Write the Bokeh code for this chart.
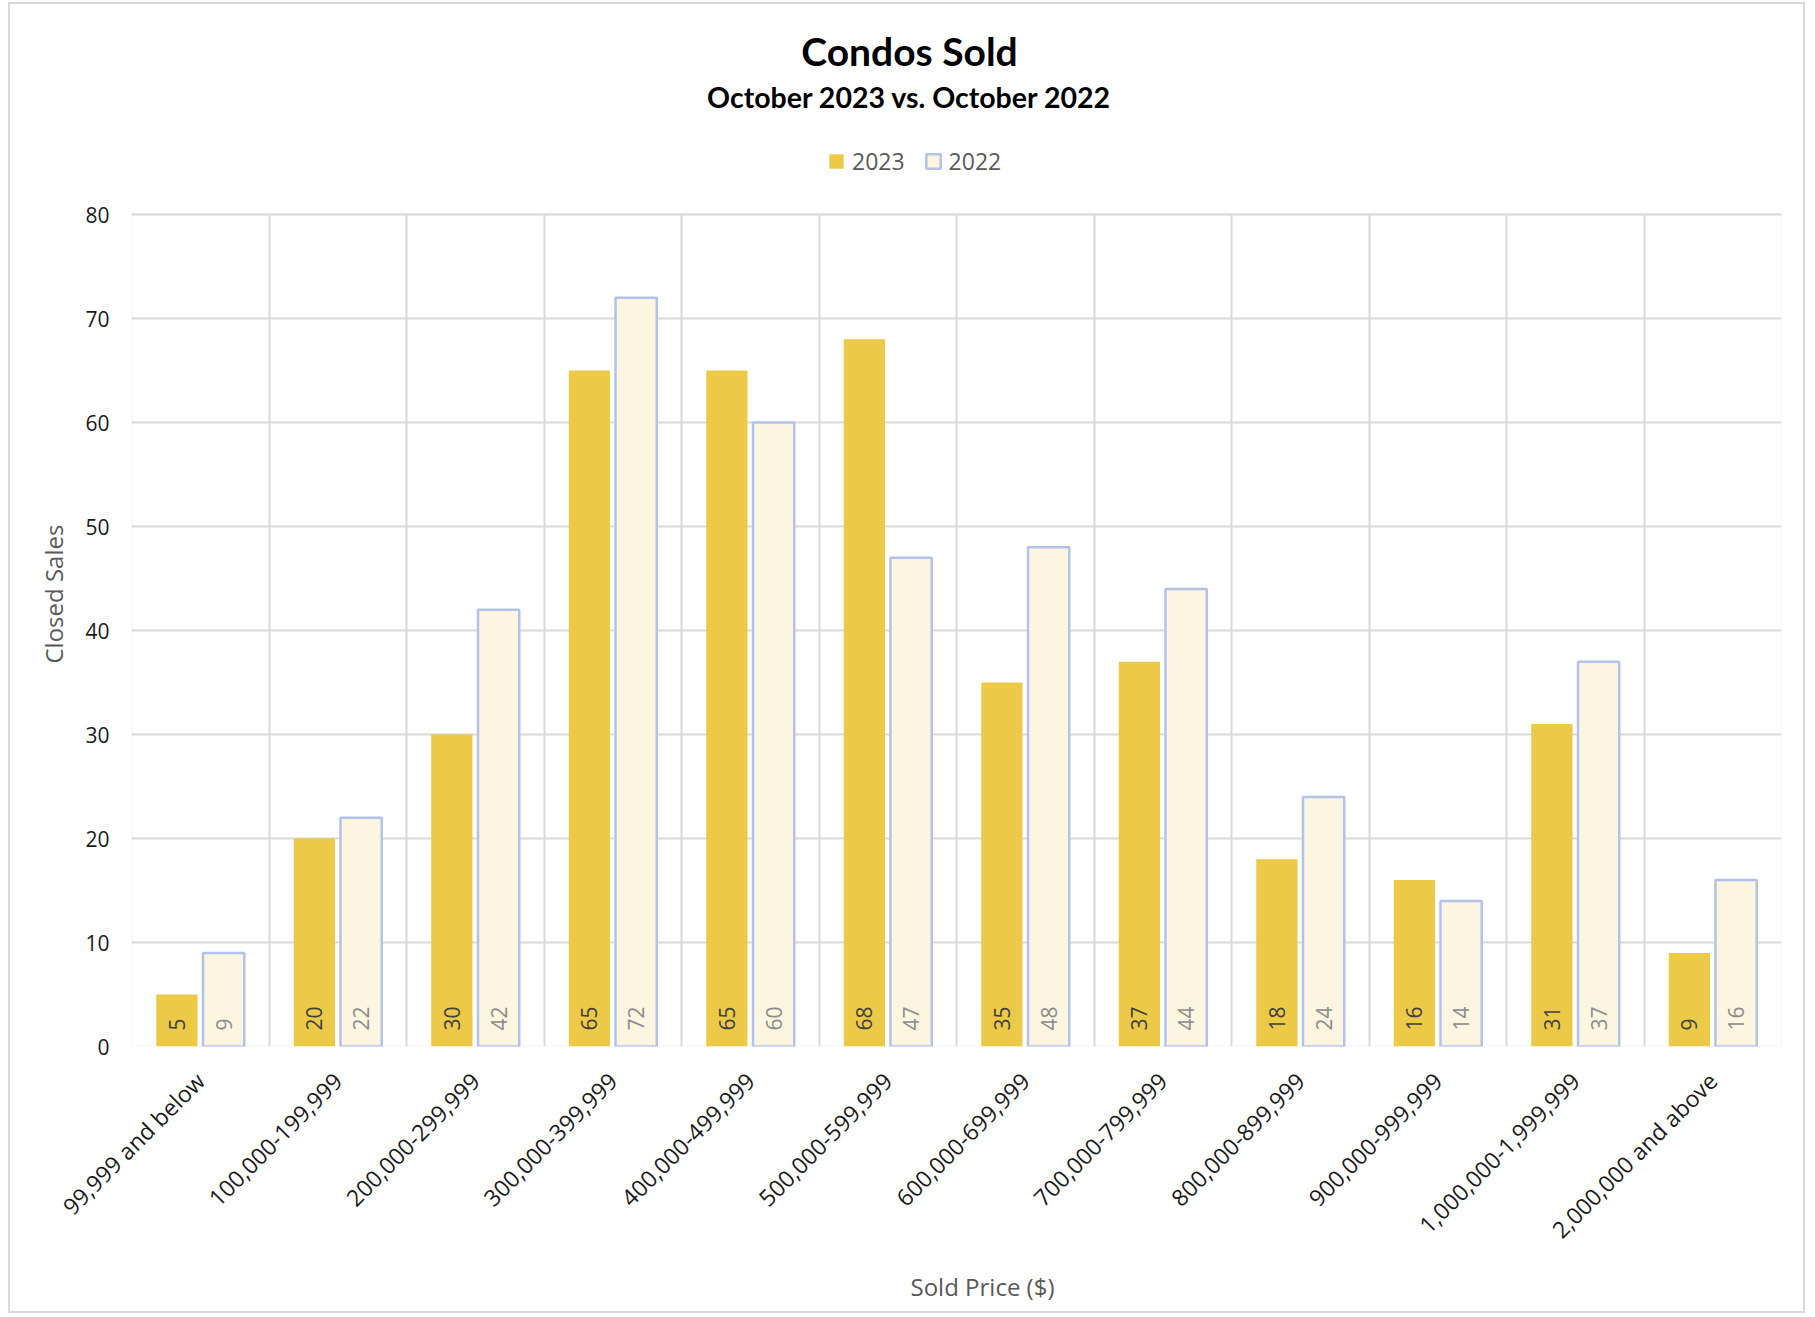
import math
from bokeh.plotting import figure
from bokeh.models import (FactorRange, Range1d, Legend, LegendItem, Title, Label,
                          FixedTicker, ColumnDataSource, BoxAnnotation, Grid)
from bokeh.transform import dodge
from bokeh.core.properties import value
from bokeh.embed import file_html
from bokeh.resources import INLINE

categories = ["99,999 and below", "100,000-199,999", "200,000-299,999",
              "300,000-399,999", "400,000-499,999", "500,000-599,999",
              "600,000-699,999", "700,000-799,999", "800,000-899,999",
              "900,000-999,999", "1,000,000-1,999,999", "2,000,000 and above"]
sales_2023 = [5, 20, 30, 65, 65, 68, 35, 37, 18, 16, 31, 9]
sales_2022 = [9, 22, 42, 72, 60, 47, 48, 44, 24, 14, 37, 16]
y_ticks = [0, 10, 20, 30, 40, 50, 60, 70, 80]

TFONT = "Lato"
FONT = "Open Sans"
GRID = "#d9d9d9"

# layout (pixels): the frame also holds the title/legend area above the chart
FRAME_H = 1036          # frame height
CHART_H = 832           # height of the 0..80 chart area at the frame bottom
y_top = y_ticks[-1] * FRAME_H / CHART_H

src = ColumnDataSource(dict(
    cat=categories,
    y2023=sales_2023,
    y2022=sales_2022,
    base=[0] * len(categories),
    lab2023=[str(v) for v in sales_2023],
    lab2022=[str(v) for v in sales_2022],
))

p = figure(x_range=FactorRange(factors=categories, range_padding=0, factor_padding=0),
           y_range=Range1d(y_ticks[0], y_top),
           width=1797, height=1311, output_backend="svg", toolbar_location=None,
           title=None,
           min_border_left=121, min_border_right=26, min_border_top=6,
           min_border_bottom=269)
p.styles = {"border": "2px solid #d9d9d9", "margin": "2px 0 0 8px"}
p.background_fill_color = "white"
p.border_fill_color = "white"
p.outline_line_color = None

# grid
nfac = len(categories)
p.ygrid.ticker = FixedTicker(ticks=y_ticks)
p.ygrid.grid_line_color = GRID
p.ygrid.grid_line_width = 2
p.xgrid.ticker = FixedTicker(ticks=list(range(nfac + 1)))
p.xgrid.grid_line_color = GRID
p.xgrid.grid_line_width = 2
if "cross_bounds" in Grid.properties():
    p.xgrid.cross_bounds = (y_ticks[0], y_ticks[-1])
else:
    p.add_layout(BoxAnnotation(bottom=y_ticks[-1], fill_color="white", fill_alpha=1,
                               line_color=None, level="underlay"))
# chart-area border
p.add_layout(BoxAnnotation(left=0, right=nfac, bottom=y_ticks[0], top=y_ticks[-1],
                           fill_alpha=0, line_color=GRID, line_width=2,
                           level="underlay"))

# axes
p.yaxis.ticker = FixedTicker(ticks=y_ticks)
for ax in (p.xaxis, p.yaxis):
    ax.axis_line_color = None
    ax.major_tick_line_color = None
    ax.minor_tick_line_color = None
    ax.major_tick_out = 0
    ax.major_tick_in = 0
    ax.major_label_text_font = FONT
    ax.major_label_text_color = "#1a1a1a"
p.yaxis.major_label_text_font_size = "21px"
p.xaxis.major_label_text_font_size = "23px"
p.yaxis.major_label_standoff = 22
p.xaxis.major_label_standoff = 30
p.xaxis.major_label_orientation = math.pi / 4

# bars
r23 = p.vbar(x=dodge("cat", -0.17, range=p.x_range), top="y2023", width=0.3,
             source=src, fill_color="#EDC948", line_color=None)
r22 = p.vbar(x=dodge("cat", 0.17, range=p.x_range), top="y2022", width=0.3,
             source=src, fill_color="#FCF5E0", line_color="#B4C1EB", line_width=2.5)

# value labels
p.text(x=dodge("cat", -0.17, range=p.x_range), y="base", text="lab2023", source=src,
       angle=math.pi / 2, text_align="left", text_baseline="middle", y_offset=-16,
       text_font=value(FONT), text_font_size="21px", text_color="#404040")
p.text(x=dodge("cat", 0.17, range=p.x_range), y="base", text="lab2022", source=src,
       angle=math.pi / 2, text_align="left", text_baseline="middle", y_offset=-16,
       text_font=value(FONT), text_font_size="21px", text_color="#8c8c8c")

# legend (inside the upper, empty part of the frame)
legend = Legend(items=[LegendItem(label="2023", renderers=[r23]),
                       LegendItem(label="2022", renderers=[r22])],
                orientation="horizontal", location=(696, 869),
                glyph_width=18, glyph_height=18, label_standoff=7, spacing=19,
                padding=0, margin=0, border_line_color=None,
                background_fill_alpha=0,
                label_text_font=FONT, label_text_font_size="23px",
                label_text_color="#595959", label_height=20)
p.add_layout(legend, "center")

# title and subtitle (screen units relative to frame: x from left, y from bottom)
p.add_layout(Label(x=778, y=996, x_units="screen", y_units="screen",
                   text="Condos Sold", text_align="center",
                   text_baseline="alphabetic", text_font=TFONT,
                   text_font_size="39px", text_font_style="bold", text_color="black"))
p.add_layout(Label(x=778, y=950, x_units="screen", y_units="screen",
                   text="October 2023 vs. October 2022", text_align="center",
                   text_baseline="alphabetic", text_font=TFONT,
                   text_font_size="28.5px", text_font_style="bold", text_color="black"))

# axis titles
p.add_layout(Title(text="Closed Sales", align="left", offset=383,
                   vertical_align="bottom", standoff=26, text_font=FONT,
                   text_font_size="24px", text_font_style="normal",
                   text_color="#595959"), "left")
p.add_layout(Title(text="Sold Price ($)", align="left", offset=779,
                   vertical_align="top", standoff=21, text_font=FONT,
                   text_font_size="24px", text_font_style="normal",
                   text_color="#595959"), "below")

open("out.html", "w").write(file_html(p, INLINE))
